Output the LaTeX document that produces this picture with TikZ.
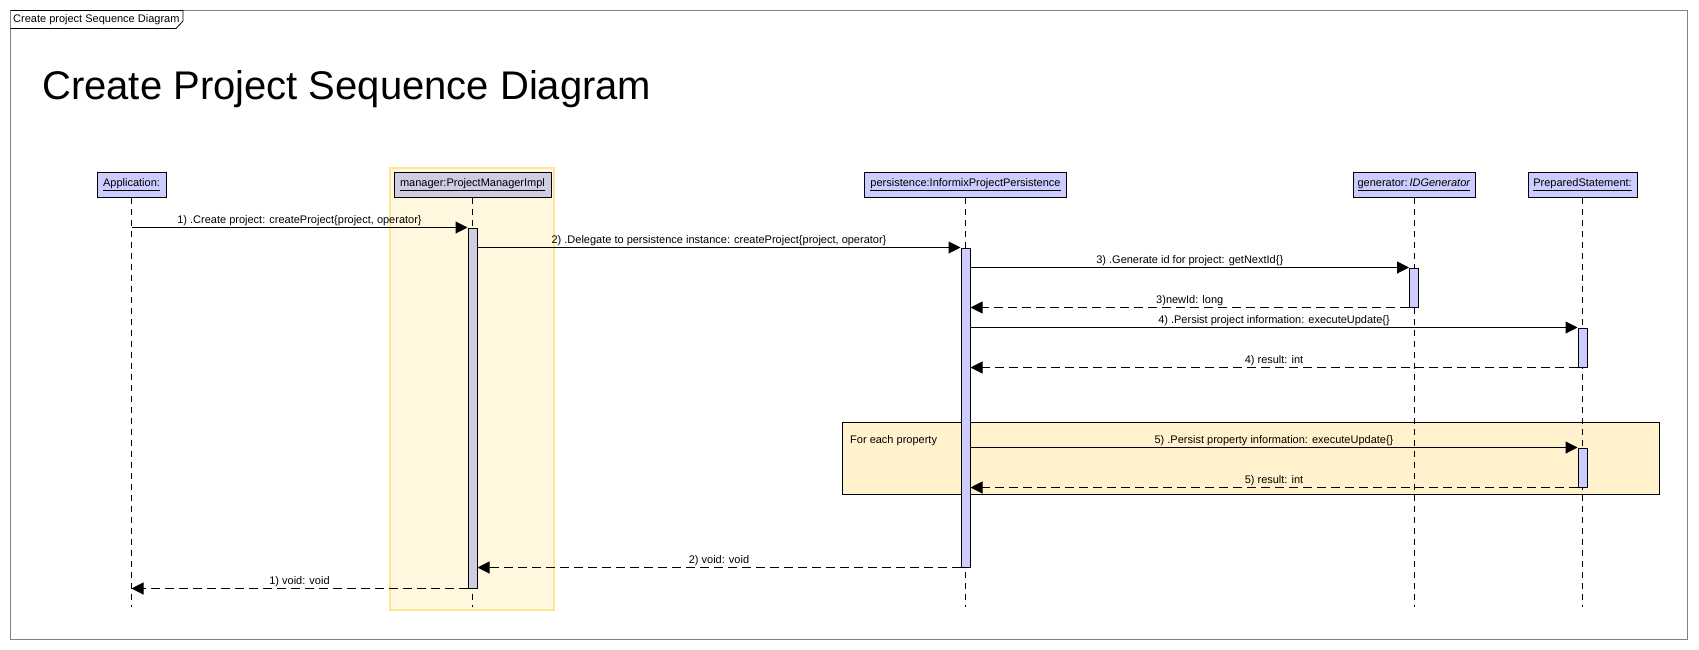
\documentclass[tikz,border=0pt]{standalone}
\usepackage{fontspec}
\setmainfont{Liberation Sans}
\usetikzlibrary{arrows.meta}
\definecolor{lav}{RGB}{204,204,255}
\definecolor{mgr}{RGB}{208,204,226}
\definecolor{hlfill}{RGB}{255,248,222}
\definecolor{hldraw}{RGB}{255,230,150}
\definecolor{fragfill}{RGB}{255,242,204}
\definecolor{framegray}{RGB}{128,128,128}
\tikzset{
  lbl/.style={font=\fontsize{11}{13}\selectfont},
  head/.style={draw=black, line width=1pt, fill=lav, minimum height=25, inner sep=0pt, lbl},
  actbox/.style={draw=black, line width=1pt, fill=lav, minimum width=9, inner sep=0pt},
  lifeline/.style={line width=0.8pt, dash pattern=on 6pt off 5pt},
  msg/.style={line width=1pt, -{Triangle[length=12pt,width=12pt]}},
  ret/.style={msg, dash pattern=on 9pt off 5pt},
  mlabel/.style={lbl, above, inner sep=1.5pt}
}
\begin{document}
\begin{tikzpicture}[x=1pt,y=-1pt]
\useasboundingbox (0,0) rectangle (1699,649);
\fill[white] (0,0) rectangle (1699,649);
% frame
\draw[framegray, line width=1pt] (10.5,10.5) rectangle (1687,639);
\draw[black, line width=0.8pt] (10.5,10.5) -- (183,10.5) -- (183,21) -- (176,28.5) -- (10.5,28.5);
\node[lbl, anchor=west, inner sep=0pt] (tab) at (13,19.5) {Create project Sequence Diagram};
% title
\node[font=\fontsize{40}{44}\selectfont, anchor=base west, inner sep=0pt] (title) at (42,99) {Create Project Sequence Diagram};
% highlight and combined fragment
\node[draw=hldraw, fill=hlfill, line width=2pt, minimum width=164, minimum height=442, inner sep=0pt] (hl) at (472,389) {};
\node[draw=black, fill=fragfill, line width=1pt, minimum width=817, minimum height=72, inner sep=0pt] (frag) at (1250.5,458) {};
\node[lbl, anchor=west, inner sep=2pt] (fraglbl) at (848,441) {For each property};
% lifeline heads
\node[head, minimum width=69] (app) at (131.5,184.5) {\underline{Application:}};
\node[head, minimum width=157, fill=mgr] (mgr) at (472.5,184.5) {\underline{manager:ProjectManagerImpl}};
\node[head, minimum width=202] (pers) at (965.5,184.5) {\underline{persistence:InformixProjectPersistence}};
\node[head, minimum width=122] (gen) at (1414,184.5) {\underline{generator:\,\textit{IDGenerator}}};
\node[head, minimum width=109] (ps) at (1582.5,184.5) {\underline{PreparedStatement:}};
% lifeline ends
\coordinate (appEnd) at (131.5,607);
\coordinate (mgrEnd) at (472.5,607);
\coordinate (persEnd) at (965.5,607);
\coordinate (genEnd) at (1414,607);
\coordinate (psEnd) at (1582.5,607);
\draw[lifeline] (app.south) -- (appEnd);
\draw[lifeline] (mgr.south) -- (mgrEnd);
\draw[lifeline] (pers.south) -- (persEnd);
\draw[lifeline] (gen.south) -- (genEnd);
\draw[lifeline] (ps.south) -- (psEnd);
% activations
\node[actbox, fill=mgr, minimum height=360] (actM) at (472.5,408) {};
\node[actbox, minimum height=319] (actP) at (965.5,407.5) {};
\node[actbox, minimum height=39] (actG) at (1414,287.5) {};
\node[actbox, minimum height=39] (actS1) at (1582.5,347.5) {};
\node[actbox, minimum height=39] (actS2) at (1582.5,467.5) {};
% messages
\draw[msg] (app.south |- actM.north) -- node[mlabel] {1) .Create project: createProject\{project, operator\}} (actM.north west);
\draw[msg] (actM.east |- actP.north) -- node[mlabel] {2) .Delegate to persistence instance: createProject\{project, operator\}} (actP.north west);
\draw[msg] (actP.east |- actG.north) -- node[mlabel] {3) .Generate id for project: getNextId\{\}} (actG.north west);
\draw[ret] (actG.south west) -- node[mlabel] {3)newId: long} (actP.east |- actG.south);
\draw[msg] (actP.east |- actS1.north) -- node[mlabel] {4) .Persist project information: executeUpdate\{\}} (actS1.north west);
\draw[ret] (actS1.south west) -- node[mlabel] {4) result: int} (actP.east |- actS1.south);
\draw[msg] (actP.east |- actS2.north) -- node[mlabel] {5) .Persist property information: executeUpdate\{\}} (actS2.north west);
\draw[ret] (actS2.south west) -- node[mlabel] {5) result: int} (actP.east |- actS2.south);
\draw[ret] (actP.south west) -- node[mlabel] {2) void: void} (actM.east |- actP.south);
\draw[ret] (actM.south west) -- node[mlabel] {1) void: void} (appEnd |- actM.south);
\end{tikzpicture}
\end{document}
